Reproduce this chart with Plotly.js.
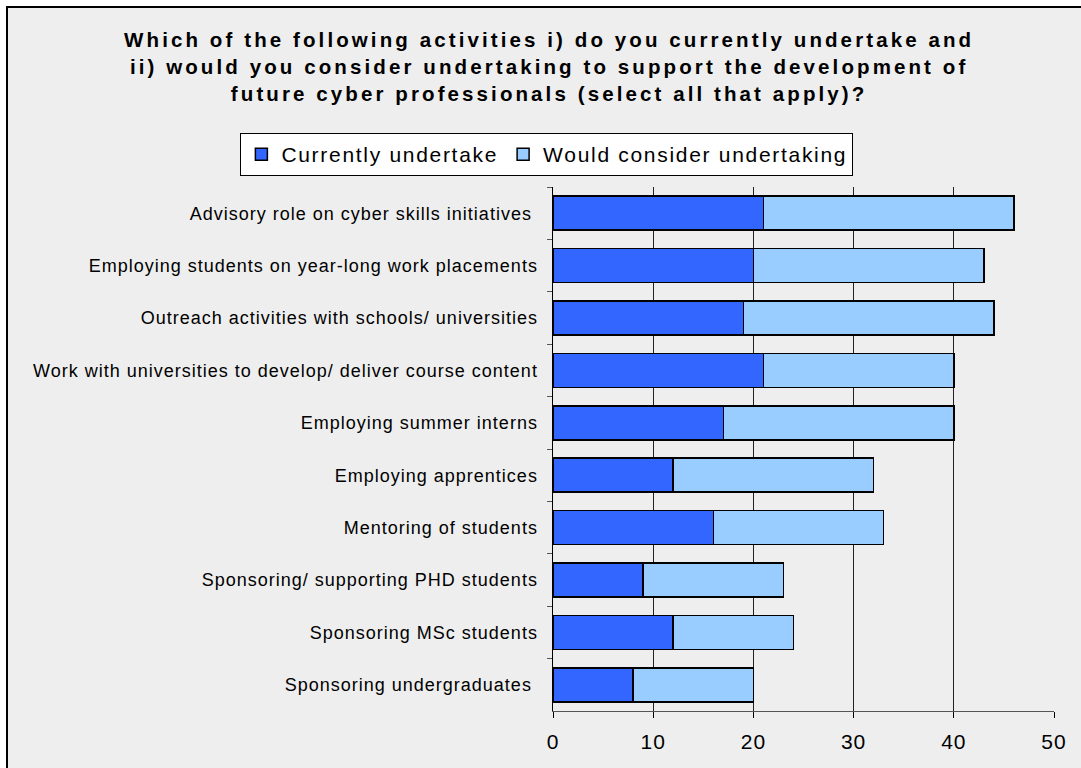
<!DOCTYPE html>
<html>
<head>
<meta charset="utf-8">
<script src="https://cdn.plot.ly/plotly-3.0.1.min.js"></script>
<style>
html,body{margin:0;padding:0;background:#fff;}
#frame{position:absolute;left:6px;top:6px;width:1100px;height:800px;background:#eeeeee;border-left:2px solid #000;border-top:2px solid #000;}
#chart{position:absolute;left:0;top:0;width:1081px;height:768px;}
.gtitle{letter-spacing:3.1px;}
.legendtext{letter-spacing:1.7px;}
.ytick text{letter-spacing:1px;}
.xtick text{letter-spacing:1px;}
</style>
</head>
<body>
<div id="frame"></div>
<div id="chart"></div>
<script>
const categories = [
  "Advisory role on cyber skills initiatives ",
  "Employing students on year-long work placements",
  "Outreach activities with schools/ universities",
  "Work with universities to develop/ deliver course content",
  "Employing summer interns",
  "Employing apprentices",
  "Mentoring of students",
  "Sponsoring/ supporting PHD students",
  "Sponsoring MSc students",
  "Sponsoring undergraduates "
];
const currentlyUndertake = [21, 20, 19, 21, 17, 12, 16, 9, 12, 8];
const wouldConsider = [25, 23, 25, 19, 23, 20, 17, 14, 12, 12];
const seriesNames = ["Currently undertake", "Would consider undertaking"];
const xTicks = [0, 10, 20, 30, 40, 50];

const FONT = "Liberation Sans, Arial, sans-serif";

const traces = [
  {
    type: "bar", orientation: "h", name: seriesNames[0],
    y: categories, x: currentlyUndertake,
    marker: {color: "#3366FF", line: {color: "#000000", width: 1.5}},
    hoverinfo: "x+y"
  },
  {
    type: "bar", orientation: "h", name: seriesNames[1],
    y: categories, x: wouldConsider,
    marker: {color: "#99CCFF", line: {color: "#000000", width: 1.5}},
    hoverinfo: "x+y"
  }
];

const layout = {
  width: 1081, height: 768,
  paper_bgcolor: "rgba(0,0,0,0)",
  plot_bgcolor: "#eeeeee",
  barmode: "stack",
  bargap: 0.35,
  margin: {l: 553, r: 27, t: 187, b: 57, pad: 0, autoexpand: false},
  font: {family: FONT, color: "#000000"},
  title: {
    text: "Which of the following activities i) do you currently undertake and<br>ii) would you consider undertaking to support the development of<br>future cyber professionals (select all that apply)?",
    font: {family: FONT, size: 20.5, weight: "bold", color: "#000000"},
    x: 0.508, xanchor: "center",
    y: 0.9385, yanchor: "top", yref: "container"
  },
  showlegend: true,
  legend: {
    orientation: "h",
    xref: "paper", yref: "paper",
    x: -0.624, xanchor: "left",
    y: 1.103, yanchor: "top",
    bgcolor: "#ffffff", bordercolor: "#000000", borderwidth: 1,
    font: {family: FONT, size: 21, color: "#000000"},
    traceorder: "normal",
    itemwidth: 30
  },
  xaxis: {
    range: [0, 50],
    tickvals: xTicks,
    ticktext: xTicks.map(String),
    showgrid: true, gridcolor: "#222222", gridwidth: 1,
    zeroline: false,
    showline: true, linecolor: "#555555", linewidth: 1,
    ticks: "outside", ticklen: 6, tickcolor: "#000000",
    tickfont: {family: FONT, size: 21, color: "#000000"},
    ticklabelstandoff: 6,
    fixedrange: true
  },
  yaxis: {
    type: "category",
    autorange: "reversed",
    tickson: "boundaries",
    ticks: "outside", ticklen: 5, tickcolor: "#555555",
    showline: true, linecolor: "#000000", linewidth: 1.5,
    showgrid: false,
    tickfont: {family: FONT, size: 18, color: "#000000"},
    ticklabelstandoff: 10,
    fixedrange: true
  }
};

Plotly.newPlot("chart", traces, layout, {displayModeBar: false, staticPlot: true});
</script>
</body>
</html>
